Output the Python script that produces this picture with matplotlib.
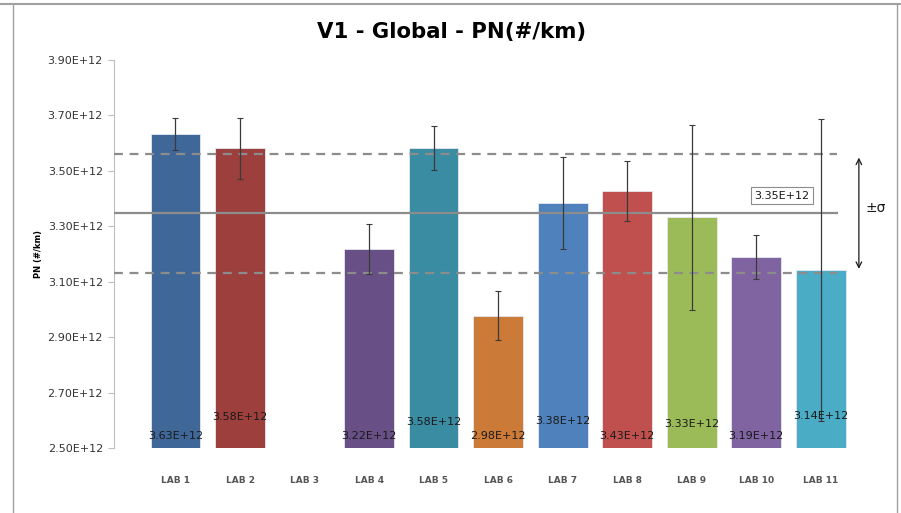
import numpy as np
import matplotlib
matplotlib.use("Agg")
import matplotlib.pyplot as plt

# data (units of 1e12 #/km)
labs = ["LAB 1", "LAB 2", "LAB 3", "LAB 4", "LAB 5", "LAB 6",
        "LAB 7", "LAB 8", "LAB 9", "LAB 10", "LAB 11"]
pn = [3.632, 3.581, np.nan, 3.217, 3.583, 2.977, 3.384, 3.427, 3.332, 3.188, 3.142]
err = [0.057, 0.111, np.nan, 0.090, 0.080, 0.089, 0.165, 0.107, 0.333, 0.080, 0.546]
pn_mean = 3.347
pn_sigma = 0.215

colors = ["#3F6899", "#9C3F3D", "#FFFFFF", "#684F85", "#3A8CA2", "#CC7A37",
          "#4F81BD", "#C0504D", "#9BBB59", "#8064A2", "#4BACC6"]
# vertical shift of each data label above the base (pixels)
label_lift = [12, 31, 0, 12, 26, 12, 27, 12, 24, 12, 32]

fig = plt.figure(figsize=(9.01, 5.13), dpi=100)

# outer frame of the chart object
fig.add_artist(plt.Line2D([0, 1], [1 - 4 / 513, 1 - 4 / 513], color="#A0A0A0", lw=1.5))
fig.add_artist(plt.Line2D([13 / 901, 13 / 901], [0, 1 - 4 / 513], color="#A0A0A0", lw=1.0))
fig.add_artist(plt.Line2D([897 / 901, 897 / 901], [0, 1 - 4 / 513], color="#A0A0A0", lw=1.0))

ax = fig.add_axes([114 / 901, 65 / 513, (895 - 114) / 901, 388 / 513])
x = np.arange(len(labs))
base = 2.5
heights = [v - base for v in pn]
ax.bar(x, heights, bottom=base, width=0.77, color=colors, edgecolor="#E8E8F0", linewidth=0.6, zorder=2)
ax.errorbar(x, pn, yerr=err, fmt="none", ecolor="#3A3A3A", elinewidth=0.9, capsize=2.5, capthick=0.8, zorder=4)

x_end = 10.25
ax.plot([-0.953, x_end], [pn_mean, pn_mean], color="#8C8C8C", lw=1.6, zorder=3)
for s in (-1, 1):
    ax.plot([-0.953, x_end], [pn_mean + s * pn_sigma] * 2, color="#8C8C8C", lw=1.6,
            ls=(0, (4, 3)), zorder=3)

for xi, v, lift in zip(x, pn, label_lift):
    if np.isnan(v):
        continue
    ax.annotate(f"{v:.2f}E+12", (xi, base), xytext=(0, lift), textcoords="offset pixels",
                ha="center", va="center", fontsize=8, color="#1A1A1A", zorder=5)

ax.text(9.4, 3.35 + 0.06, f"{pn_mean:.2f}E+12", ha="center", va="center", fontsize=8,
        color="#1A1A1A", bbox=dict(boxstyle="square,pad=0.3", fc="white", ec="#8C8C8C", lw=0.8))

ax.annotate("", xy=(10.59, pn_mean - pn_sigma * 0.98), xytext=(10.59, pn_mean + pn_sigma * 0.98),
            arrowprops=dict(arrowstyle="<->", color="#1A1A1A", lw=0.9))
ax.text(10.85, pn_mean + 0.02, "±σ", ha="center", va="center", fontsize=10, color="#1A1A1A")

ax.set_xlim(-0.953, 11.15)
ax.set_ylim(2.5, 3.9)
yt = np.arange(2.5, 3.91, 0.2)
ax.set_yticks(yt)
ax.set_yticklabels([f"{t:.2f}E+12" for t in yt], fontsize=8, color="#333333")
ax.set_xticks(x)
ax.set_xticklabels(labs, fontsize=6.5, color="#555555", fontweight="bold")
ax.tick_params(axis="x", length=0, pad=20)
ax.tick_params(axis="y", length=4, color="#BFBFBF", pad=4)
for side in ("top", "right", "bottom"):
    ax.spines[side].set_visible(False)
ax.spines["left"].set_color("#BFBFBF")
ax.set_ylabel("PN (#/km)", fontsize=6, fontweight="bold", labelpad=3)

fig.text(452 / 901, 1 - 32 / 513, "V1 - Global - PN(#/km)", ha="center", va="center",
         fontsize=15.3, fontweight="bold")

fig.savefig("out.png", dpi=100)
